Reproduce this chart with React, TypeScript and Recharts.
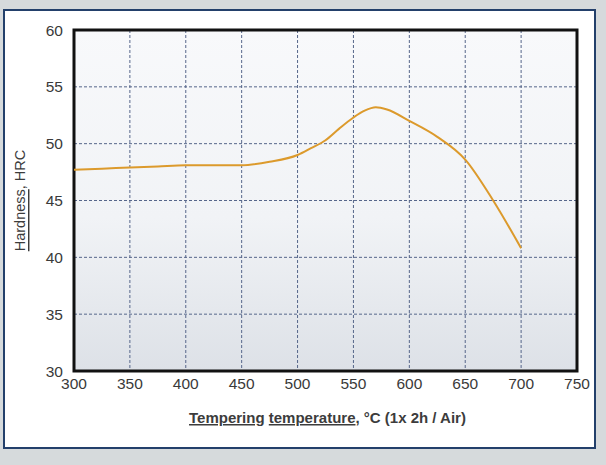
import React from 'react'
import { LineChart, Line, XAxis, YAxis, CartesianGrid, ReferenceArea } from 'recharts'

// tempering temperature (°C) and hardness (HRC)
const temps = [300, 325, 350, 375, 400, 425, 450, 475, 500, 512, 525, 537, 550, 560, 570, 580, 600, 625, 650, 675, 700]
const hardness = [47.7, 47.8, 47.9, 48.0, 48.1, 48.1, 48.1, 48.4, 49.0, 49.6, 50.3, 51.3, 52.3, 52.9, 53.2, 53.0, 52.0, 50.6, 48.6, 45.0, 40.8]

const xTicks = [300, 350, 400, 450, 500, 550, 600, 650, 700, 750]
const yTicks = [30, 35, 40, 45, 50, 55, 60]

const data = temps.map((t, i) => ({ temp: t, hrc: hardness[i] }))

const font = '"Liberation Sans", Arial, sans-serif'
const ul = { textDecoration: 'underline', textDecorationColor: '#777' } as React.CSSProperties

const XLabel = (props: any) => {
  const vb = props.viewBox
  return (
    <text x={vb.x + vb.width / 2 + 2} y={vb.y + 52} textAnchor="middle" fill="#3c3c3c"
      fontSize={15} fontWeight={600} fontFamily={font}>
      <tspan style={ul}>Tempering</tspan> <tspan style={ul}>temperature</tspan>, °C (1x 2h / Air)
    </text>
  )
}

const YLabel = (props: any) => {
  const vb = props.viewBox
  const cy = vb.y + vb.height / 2
  return (
    <text x={15} y={cy} textAnchor="middle" dominantBaseline="central" fill="#3c3c3c"
      fontSize={14.5} fontFamily={font} transform={`rotate(-90 15 ${cy})`}>
      <tspan style={ul}>Hardness</tspan>, HRC
    </text>
  )
}

const App: React.FC = () => {
  return (
    <div style={{ position: 'absolute', left: 0, top: 0, width: 606, height: 465, background: '#d6dadc' }}>
      <div style={{
        position: 'absolute', left: 3, top: 9, width: 593, height: 440, boxSizing: 'border-box',
        border: '2px solid #23406b', background: '#ffffff'
      }}>
        <LineChart width={589} height={436} data={data}
          margin={{ top: 19, right: 17, bottom: 26, left: 9 }}>
          <defs>
            <linearGradient id="plotBg" x1="0" y1="0" x2="0" y2="1">
              <stop offset="0%" stopColor="#f8f9fb" />
              <stop offset="55%" stopColor="#f1f3f6" />
              <stop offset="100%" stopColor="#dde1e7" />
            </linearGradient>
          </defs>
          <CartesianGrid fill="url(#plotBg)" stroke="#56668a" strokeDasharray="3 2" strokeWidth={1} />
          <XAxis dataKey="temp" type="number" domain={[300, 750]} ticks={xTicks} height={50}
            axisLine={false} tickLine={false} tickSize={0} tickMargin={7}
            tick={{ fill: '#3a3a3a', fontSize: 15.5, fontFamily: font }} interval={0}
            label={<XLabel />} />
          <YAxis type="number" domain={[30, 60]} ticks={yTicks} width={60}
            axisLine={false} tickLine={false} tickSize={0} tickMargin={11}
            tick={{ fill: '#3a3a3a', fontSize: 15.5, fontFamily: font }} interval={0}
            label={<YLabel />} />
          <ReferenceArea x1={300} x2={750} y1={30} y2={60} fill="none" fillOpacity={0}
            stroke="#111" strokeWidth={3} ifOverflow="visible" />
          <Line dataKey="hrc" type="monotone" stroke="#dc9a2c" strokeWidth={2} dot={false}
            activeDot={false} isAnimationActive={false} />
        </LineChart>
      </div>
    </div>
  )
}

export default App
